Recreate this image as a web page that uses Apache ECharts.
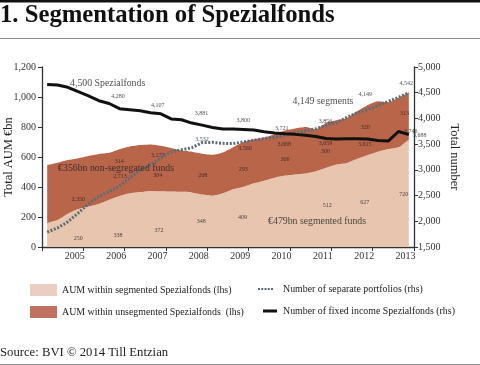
<!DOCTYPE html>
<html><head><meta charset="utf-8">
<script src="https://cdn.jsdelivr.net/npm/echarts@6/dist/echarts.min.js"></script>
<style>html,body{margin:0;padding:0;background:#fff}#c{width:480px;height:365px}</style>
</head><body><div id="c"></div>
<script>
// quarterly observations 2004Q1..2012Q4 (one category per quarter)
const quarters = ['2004Q1','2004Q2','2004Q3','2004Q4','2005Q1','2005Q2','2005Q3','2005Q4','2006Q1','2006Q2','2006Q3','2006Q4','2007Q1','2007Q2','2007Q3','2007Q4','2008Q1','2008Q2','2008Q3','2008Q4','2009Q1','2009Q2','2009Q3','2009Q4','2010Q1','2010Q2','2010Q3','2010Q4','2011Q1','2011Q2','2011Q3','2011Q4','2012Q1','2012Q2','2012Q3','2012Q4'];
const yearTicks = [2005,2006,2007,2008,2009,2010,2011,2012,2013];
// AUM within segmented Spezialfonds (EUR bn, lhs)
const segmented = [160,180,222,253,270,287,315,340,358,366,374,372,370,368,364,350,342,358,385,402,425,442,462,476,484,490,505,528,550,560,588,612,635,653,665,715];
// AUM within unsegmented Spezialfonds (EUR bn, lhs)
const unsegmented = [386,382,358,339,337,333,313,312,312,314,310,303,290,275,271,272,273,272,280,298,293,288,290,300,306,310,280,300,295,300,317,333,337,312,330,315];
// Number of separate portfolios (rhs)
const portfolios = [1790,1870,1990,2160,2340,2480,2580,2680,2850,2990,3100,3230,3350,3390,3430,3530,3535,3515,3510,3545,3575,3610,3630,3670,3720,3760,3800,3860,3920,4020,4110,4170,4250,4330,4410,4500];
// Number of fixed income Spezialfonds (rhs)
const fixedIncome = [4660,4650,4605,4520,4440,4345,4290,4190,4170,4150,4110,4090,3990,3975,3910,3870,3825,3795,3795,3785,3775,3740,3715,3700,3690,3675,3650,3610,3600,3605,3605,3600,3570,3560,3746,3688];

// value annotations: [year position, value, text]
const fixedLabels = [[2005.84,4424,'4,280'],[2006.80,4249,'4,107'],[2007.86,4089,'3,881'],[2008.87,3957,'3,800'],[2009.80,3808,'3,721'],[2010.86,3522,'3,659'],[2011.81,3502,'3,615'],[2012.92,3749,'3,746'],[2013.14,3671,'3,688']];
const portfolioLabels = [[2004.88,2433,'2,350'],[2005.89,2869,'2,713'],[2006.80,3288,'3,177'],[2007.87,3588,'3,532'],[2008.91,3419,'3,560'],[2009.86,3502,'3,668'],[2010.86,3944,'3,856'],[2011.82,4468,'4,149'],[2012.81,4688,'4,542']];
const unsegLabels = [[2005.87,568,'314'],[2006.80,474,'304'],[2007.89,479,'268'],[2008.87,519,'293'],[2009.88,586,'306'],[2010.86,635,'300'],[2011.82,796,'320'],[2012.77,888,'313']];
const segLabels = [[2004.88,54,'250'],[2005.84,80,'338'],[2006.83,110,'372'],[2007.85,170,'348'],[2008.85,199,'409'],[2010.90,278,'512'],[2011.81,295,'627'],[2012.75,349,'720']];
const bigNotesRhs = [[2004.68,4682,'4,500 Spezialfonds'],[2010.06,4338,'4,149 segments']];
const bigNotesLhs = [[2004.39,521,'€356bn non-segregated funds'],[2009.47,168,'€479bn segmented funds']];

const names = ['AUM within segmented Spezialfonds (lhs)','AUM within unsegmented Spezialfonds  (lhs)','Number of separate portfolios (rhs)','Number of fixed income Spezialfonds (rhs)'];
const FONT = '"Liberation Serif", "DejaVu Serif", serif';
const LIGHT = '#e7c5ae', DARK = '#b9654a', DOT = '#5d6c74', BLACK = '#111';
const fmt = v => Number(v).toLocaleString('en-US');

function noteSeries(items, axis, size, align){
  return {type:'scatter', xAxisIndex:1, yAxisIndex:axis, symbolSize:0, silent:true, clip:false, z:20,
    data: items.map(d => ({value:[d[0], d[1]], name:d[2]})),
    label:{show:true, position:'inside', formatter:p => p.name, fontFamily:FONT, fontSize:size, color:'#222', align:align}};
}

const chart = echarts.init(document.getElementById('c'), null, {renderer:'canvas'});
const legendBase = {orient:'horizontal', itemGap:0, padding:0, textStyle:{fontFamily:FONT, fontSize:9.9, color:'#222'}};
const dotsIcon = 'path://M0,0h2v2h-2zM3.25,0h2v2h-2zM6.5,0h2v2h-2zM9.75,0h2v2h-2zM13,0h2v2h-2z';
chart.setOption({
  animation:false,
  title:{text:'1. Segmentation of Spezialfonds', left:0, top:3, padding:0, textStyle:{fontFamily:FONT, fontSize:24.7, fontWeight:'bold', color:'#111'}},
  grid:{left:42, right:66, top:67, bottom:118, containLabel:false, outerBoundsMode:'none'},
  legend:[
    Object.assign({}, legendBase, {left:30, top:284, itemWidth:27, itemHeight:12, data:[{name:names[0], icon:'rect', itemStyle:{color:'#ebcdc4'}}]}),
    Object.assign({}, legendBase, {left:30, top:306, itemWidth:27, itemHeight:12, data:[{name:names[1], icon:'rect', itemStyle:{color:'#c17162'}}]}),
    Object.assign({}, legendBase, {left:258, top:284, itemWidth:15, itemHeight:12, data:[{name:names[2], icon:dotsIcon, itemStyle:{color:DOT}}], textStyle:Object.assign({}, legendBase.textStyle, {padding:[0,0,0,5]})}),
    Object.assign({}, legendBase, {left:263, top:306, itemWidth:14, itemHeight:12, data:[{name:names[3], icon:'path://M0,0h14v3h-14z', itemStyle:{color:BLACK}}], textStyle:Object.assign({}, legendBase.textStyle, {padding:[0,0,0,1]})})
  ],
  xAxis:[
    {type:'category', data:quarters, boundaryGap:true, show:false, position:'bottom'},
    {type:'value', min:2004, max:2013, interval:1, position:'bottom',
      axisLine:{lineStyle:{color:'#333', width:1.3}},
      axisTick:{show:true, length:4, lineStyle:{color:'#333'}},
      splitLine:{show:false},
      axisLabel:{margin:4, fontFamily:FONT, fontSize:10, color:'#333', padding:[0,17,0,0],
        formatter:v => yearTicks.indexOf(v) >= 0 ? String(v) : ''}}
  ],
  yAxis:[
    {type:'value', min:0, max:1200, interval:200, name:'Total AUM €bn', nameLocation:'middle', nameGap:27, nameMoveOverlap:false,
      nameTextStyle:{fontFamily:FONT, fontSize:12.5, color:'#222'},
      axisLine:{show:true, lineStyle:{color:'#333', width:1.3}},
      axisTick:{show:true, length:4, lineStyle:{color:'#333'}},
      splitLine:{show:false},
      axisLabel:{margin:6, fontFamily:FONT, fontSize:10, color:'#333', formatter:fmt}},
    {type:'value', min:1500, max:5000, interval:500, name:'Total number', nameLocation:'middle', nameGap:34, nameRotate:-90, nameMoveOverlap:false,
      nameTextStyle:{fontFamily:FONT, fontSize:12.5, color:'#222'},
      axisLine:{show:true, lineStyle:{color:'#333', width:1.3}},
      axisTick:{show:true, length:4, lineStyle:{color:'#333'}},
      splitLine:{show:false},
      axisLabel:{margin:4, fontFamily:FONT, fontSize:10, color:'#333', formatter:fmt}}
  ],
  series:[
    {name:names[0], type:'line', stack:'aum', xAxisIndex:0, yAxisIndex:0, symbol:'none', smooth:0.2,
      data:segmented, lineStyle:{width:0}, itemStyle:{color:LIGHT}, areaStyle:{color:LIGHT, opacity:1}},
    {name:names[1], type:'line', stack:'aum', xAxisIndex:0, yAxisIndex:0, symbol:'none', smooth:0.2,
      data:unsegmented, lineStyle:{width:0}, itemStyle:{color:DARK}, areaStyle:{color:DARK, opacity:1}},
    {name:names[2], type:'line', xAxisIndex:0, yAxisIndex:1, symbol:'none', z:5,
      data:portfolios, itemStyle:{color:DOT}, lineStyle:{color:DOT, width:3, type:[2,1.6]}},
    {name:names[3], type:'line', xAxisIndex:0, yAxisIndex:1, symbol:'none', z:6,
      data:fixedIncome, itemStyle:{color:BLACK}, lineStyle:{color:BLACK, width:3}},
    noteSeries(fixedLabels, 1, 6, 'center'),
    noteSeries(portfolioLabels, 1, 6, 'center'),
    noteSeries(unsegLabels, 0, 6, 'center'),
    noteSeries(segLabels, 0, 6, 'center'),
    noteSeries(bigNotesRhs, 1, 9.8, 'left'),
    noteSeries(bigNotesLhs, 0, 9.8, 'left')
  ],
  graphic:[
    {type:'rect', left:0, top:0, shape:{width:480, height:2.5}, style:{fill:'#111'}},
    {type:'rect', left:0, top:38, shape:{width:480, height:1}, style:{fill:'#8a8a8a'}},
    {type:'text', left:0, top:346, style:{text:'Source: BVI © 2014 Till Entzian', font:'12.7px ' + FONT, fill:'#222'}},
    {type:'rect', left:0, top:364, shape:{width:480, height:1}, style:{fill:'#8a8a8a'}}
  ]
});
</script></body></html>
